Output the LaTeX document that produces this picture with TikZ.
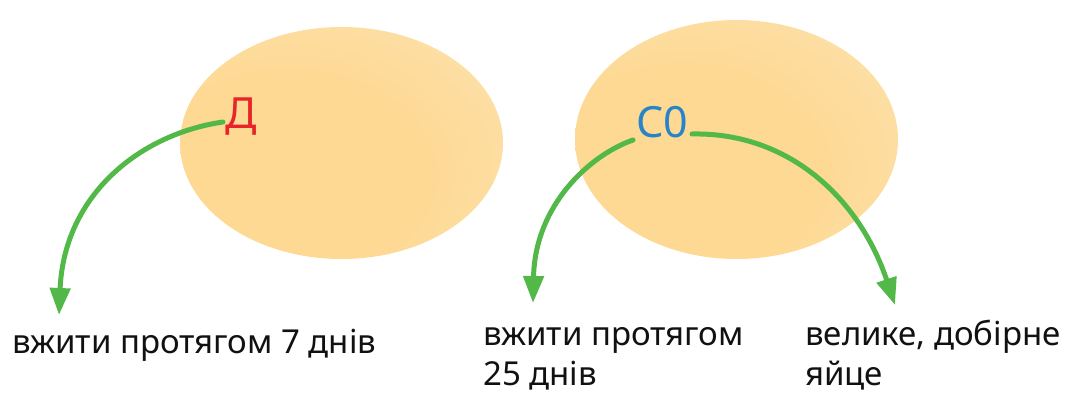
\documentclass[tikz,border=0pt]{standalone}
\usepackage{fontspec}
\setmainfont{Noto Sans}
\usetikzlibrary{arrows.meta,shapes.geometric}
\definecolor{eggin}{RGB}{253,217,148}
\definecolor{eggout}{RGB}{254,237,208}
\definecolor{arrgreen}{RGB}{82,184,72}
\definecolor{lblred}{RGB}{232,36,40}
\definecolor{lblblue}{RGB}{40,132,200}
\definecolor{txt}{RGB}{17,17,17}
\pgfdeclareradialshading{eggshade}{\pgfpoint{-12bp}{-10bp}}{color(0bp)=(eggin); color(22bp)=(eggin); color(66bp)=(eggout); color(72bp)=(eggout)}
\tikzset{
  egg/.style={ellipse, shading=eggshade, draw=none, inner sep=0pt, minimum width=323pt},
  mark label/.style={font=\fontsize{43}{43}\selectfont, inner sep=0pt, anchor=base west},
  caption/.style={font=\fontsize{33}{40}\selectfont, text=txt, inner sep=0pt, anchor=base west, align=left},
  link/.style={draw=arrgreen, line width=5pt, line cap=round, -{Triangle[length=27pt,width=20pt]}}
}
\begin{document}
\begin{tikzpicture}[x=1pt,y=-1pt]
\useasboundingbox (0,0) rectangle (1073,396);
\node[egg, minimum height=232pt] (eggD) at (341.5,143) {};
\node[egg, minimum height=239pt] (eggC) at (736.5,139.5) {};
\node[mark label, text=lblred] (D) at (225,128) {Д};
\node[mark label, text=lblblue] (C) at (636,137) {С0};
\node[caption] (t1) at (12,353) {вжити протягом 7 днів};
\node[caption] (t2) at (483,385) {вжити протягом\\25 днів};
\node[caption] (t3) at (805,385) {велике, добірне\\яйце};
\coordinate (dOut) at (223,122);
\coordinate (cOutL) at (633,140);
\coordinate (cOutR) at (692,134);
\coordinate (tip1) at (59,315);
\coordinate (tip2) at (533,303);
\coordinate (tip3) at (895,305);
\draw[link] (dOut) .. controls (140,134) and (64,195) .. (tip1);
\draw[link] (cOutL) .. controls (590,155) and (535,205) .. (tip2);
\draw[link] (cOutR) .. controls (790,132) and (860,200) .. (tip3);
\end{tikzpicture}
\end{document}
